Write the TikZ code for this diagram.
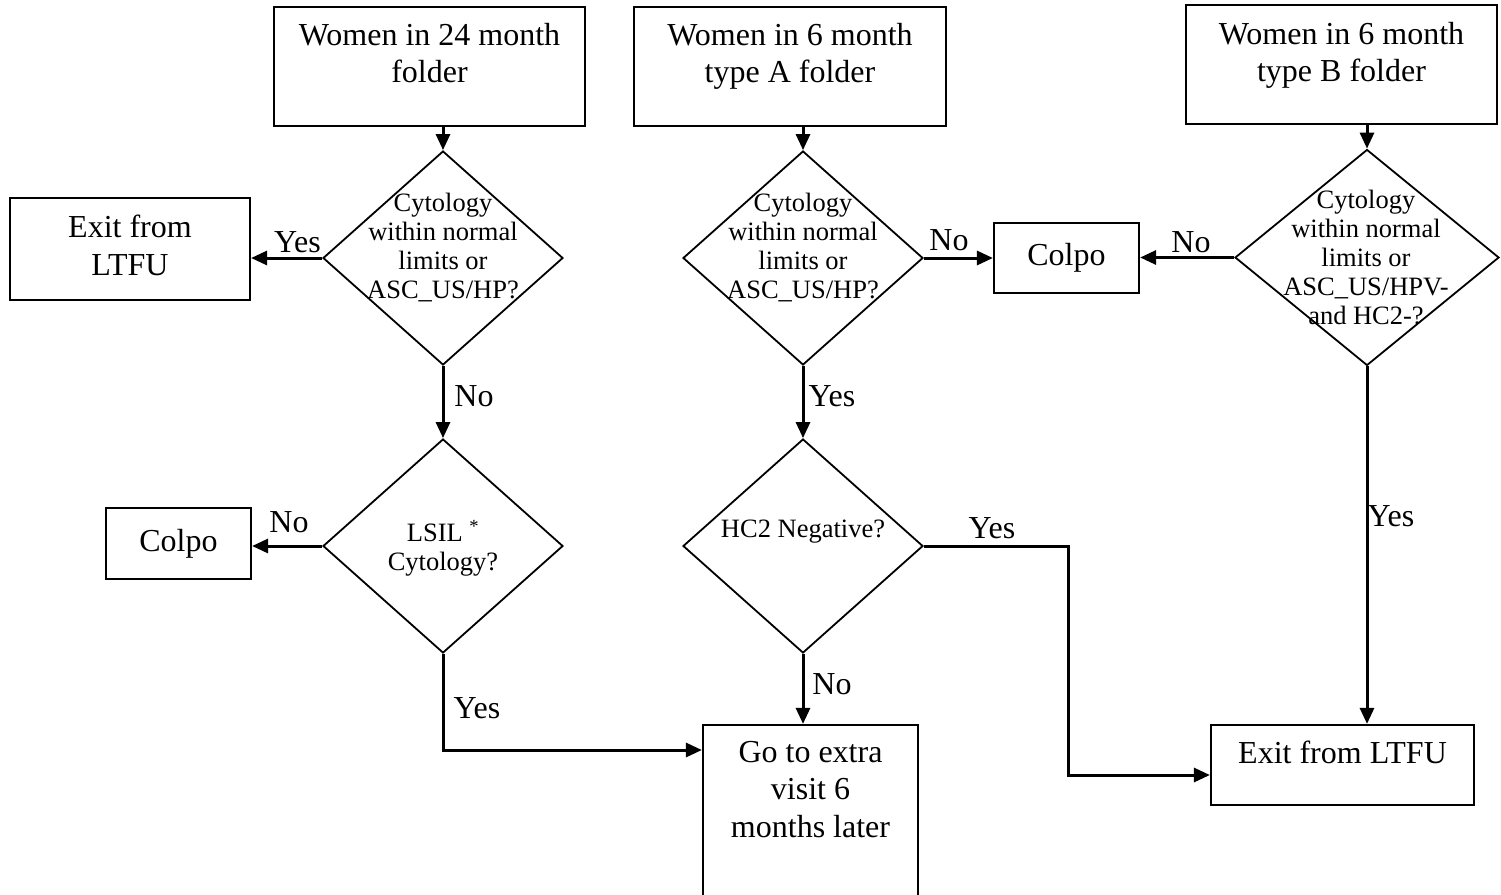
\documentclass[tikz,border=0pt]{standalone}
\usepackage{fontspec}
\setmainfont{Liberation Serif}
\usetikzlibrary{shapes.geometric,arrows.meta}

\begin{document}
\begin{tikzpicture}[x=1pt,y=-1pt,
  box/.style={draw, line width=2.2pt, inner sep=0pt},
  dia/.style={draw, diamond, line width=1.8pt, inner sep=0pt},
  big/.style={font=\fontsize{32}{37.5}\selectfont, align=center, inner sep=0pt},
  small/.style={font=\fontsize{26.5}{29}\selectfont, align=center, inner sep=0pt},
  lab/.style={font=\fontsize{32}{37}\selectfont, inner sep=0pt, anchor=base},
  arr/.style={line width=3pt, -{Triangle[length=16pt,width=14pt]}}]

\useasboundingbox (0,0) rectangle (1501,894);

% start folders
\node[box, minimum width=311, minimum height=119] (b1) at (429.5,66.5) {};
\node[big, anchor=north] (b1t) at (429.5,23) {Women in 24 month\\folder};
\node[box, minimum width=312, minimum height=119] (b2) at (790,66.5) {};
\node[big, anchor=north] (b2t) at (790,23) {Women in 6 month\\type A folder};
\node[box, minimum width=311, minimum height=119] (b3) at (1341.5,64.5) {};
\node[big, anchor=north] (b3t) at (1341.5,22) {Women in 6 month\\type B folder};

% decisions
\node[dia, minimum width=240, minimum height=214] (d1) at (443,258) {};
\node[small, anchor=north] (d1t) at (443,193) {Cytology\\within normal\\limits or\\ASC\_US/HP?};
\node[dia, minimum width=240, minimum height=214] (d2) at (803,258) {};
\node[small, anchor=north] (d2t) at (803,193) {Cytology\\within normal\\limits or\\ASC\_US/HP?};
\node[dia, minimum width=264, minimum height=216] (d3) at (1367,257.5) {};
\node[small, anchor=north] (d3t) at (1366,190) {Cytology\\within normal\\limits or\\ASC\_US/HPV-\\and HC2-?};
\node[dia, minimum width=240, minimum height=214] (d4) at (443,546) {};
\node[small, anchor=north] (d4t) at (443,520) {LSIL \textsuperscript{*}\\Cytology?};
\node[dia, minimum width=240, minimum height=214] (d5) at (803,546) {};
\node[small, anchor=north] (d5t) at (803,520) {HC2 Negative?};

% outcomes
\node[box, minimum width=240, minimum height=102] (e1) at (130,249) {};
\node[big, anchor=north] (e1t) at (130,215) {Exit from\\LTFU};
\node[box, big, minimum width=145, minimum height=70] (c1) at (1066.5,258) {Colpo};
\node[box, big, minimum width=145, minimum height=71] (c2) at (178.5,543.5) {Colpo};
\node[box, minimum width=215, minimum height=205] (g) at (810.5,827.5) {};
\node[big, anchor=north] (gt) at (810.5,741) {Go to extra\\visit 6\\months later};
\node[box, minimum width=263, minimum height=80] (x2) at (1342.5,765) {};
\node[big, anchor=north] (x2t) at (1342.5,741) {Exit from LTFU};

% bends
\coordinate (k1) at (1068,775);
\coordinate (k2) at (443,750);

% connectors
\draw[arr] (d1.north |- b1.south) -- (d1.north);
\draw[arr] (d2.north |- b2.south) -- (d2.north);
\draw[arr] (d3.north |- b3.south) -- (d3.north);
\draw[arr] (d1.west) -- (d1.west -| e1.east);
\draw[arr] (d1.south) -- (d4.north);
\draw[arr] (d4.west) -- (d4.west -| c2.east);
\draw[arr] (d4.south) -- (k2) -- (k2 -| g.west);
\draw[arr] (d2.east) -- (d2.east -| c1.west);
\draw[arr] (d2.south) -- (d5.north);
\draw[arr] (d5.south) -- (d5.south |- g.north);
\draw[arr] (d5.east) -| (k1) -- (k1 -| x2.west);
\draw[arr] (d3.west) -- (d3.west -| c1.east);
\draw[arr] (d3.south) -- (d3.south |- x2.north);

% branch labels
\node[lab] (l1) at (297.5,252) {Yes};
\node[lab] (l2) at (474,406) {No};
\node[lab] (l3) at (289,532) {No};
\node[lab] (l4) at (477,718) {Yes};
\node[lab] (l5) at (832,406) {Yes};
\node[lab] (l6) at (949,250) {No};
\node[lab] (l7) at (832,694) {No};
\node[lab] (l8) at (992,538) {Yes};
\node[lab] (l9) at (1191,252) {No};
\node[lab] (l10) at (1391,526) {Yes};
\end{tikzpicture}
\end{document}
